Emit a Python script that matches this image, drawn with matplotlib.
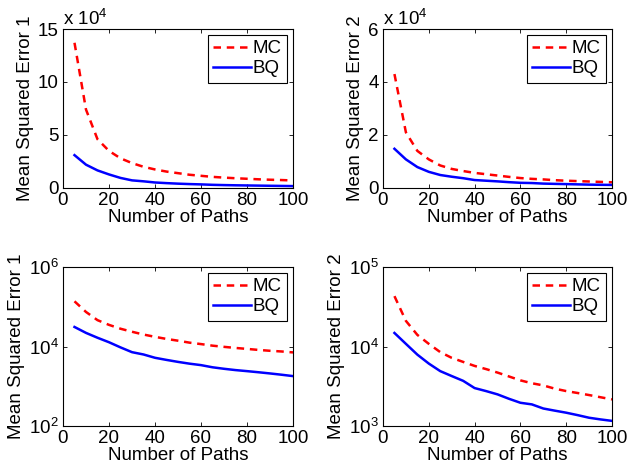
import numpy as np
import matplotlib
matplotlib.use("Agg")
import matplotlib.pyplot as plt

plt.rcParams['font.family'] = ['Liberation Sans', 'DejaVu Sans']
plt.rcParams['mathtext.fontset'] = 'custom'
plt.rcParams['mathtext.rm'] = 'Liberation Sans'
plt.rcParams['mathtext.it'] = 'Liberation Sans'

paths = [5, 10, 15, 20, 25, 30, 35, 40, 45, 50, 55, 60, 65, 70, 75, 80, 85, 90, 95, 100]

mc_err1 = [137000, 74000, 46000, 35000, 28000, 23500, 20000, 17500, 15500, 14000,
           12500, 11500, 10500, 9800, 9200, 8700, 8200, 7800, 7500, 7100]
bq_err1 = [31000, 22000, 16600, 12800, 9500, 7200, 6300, 5200, 4600, 4100,
           3700, 3400, 3000, 2750, 2550, 2400, 2250, 2100, 1950, 1800]

mc_err2 = [43000, 21000, 14000, 10800, 8500, 7200, 6400, 5700, 5200, 4700,
           4200, 3750, 3450, 3240, 2950, 2750, 2600, 2450, 2300, 2160]
bq_err2 = [14800, 10800, 7900, 6100, 4900, 4250, 3700, 3000, 2750, 2500,
           2200, 1960, 1870, 1660, 1560, 1470, 1370, 1270, 1210, 1160]

FS = 13.5

fig = plt.figure(figsize=(6.28, 4.76), dpi=100)
boxes = [
    [63 / 628, 1 - 188 / 476, 230 / 628, 159 / 476],
    [383 / 628, 1 - 188 / 476, 229 / 628, 159 / 476],
    [63 / 628, 1 - 426 / 476, 230 / 628, 159 / 476],
    [383 / 628, 1 - 426 / 476, 229 / 628, 159 / 476],
]
series = [(mc_err1, bq_err1, "Mean Squared Error 1"),
          (mc_err2, bq_err2, "Mean Squared Error 2"),
          (mc_err1, bq_err1, "Mean Squared Error 1"),
          (mc_err2, bq_err2, "Mean Squared Error 2")]

for i, (box, (mc, bq, ylab)) in enumerate(zip(boxes, series)):
    ax = fig.add_axes(box)
    ax.plot(paths, mc, color="red", linestyle=(0, (3, 2.3)), lw=1.8, label="MC")
    ax.plot(paths, bq, color="blue", linestyle="-", lw=1.8, label="BQ")
    ax.set_xlim(0, 100)
    ax.set_xticks([0, 20, 40, 60, 80, 100])
    if i == 0:
        ax.set_ylim(0, 150000)
        ax.set_yticks([0, 50000, 100000, 150000])
        ax.set_yticklabels(["0", "5", "10", "15"])
    elif i == 1:
        ax.set_ylim(0, 60000)
        ax.set_yticks([0, 20000, 40000, 60000])
        ax.set_yticklabels(["0", "2", "4", "6"])
    elif i == 2:
        ax.set_yscale("log")
        ax.set_ylim(1e2, 1e6)
        ax.set_yticks([1e2, 1e4, 1e6])
        ax.set_yticklabels(["10$^{2}$", "10$^{4}$", "10$^{6}$"])
    else:
        ax.set_yscale("log")
        ax.set_ylim(1e3, 1e5)
        ax.set_yticks([1e3, 1e4, 1e5])
        ax.set_yticklabels(["10$^{3}$", "10$^{4}$", "10$^{5}$"])
    ax.minorticks_off()
    if i < 2:
        ax.text(0.0, 1.0, "x 10$^{4}$", transform=ax.transAxes, fontsize=FS,
                ha="left", va="bottom")
    ax.tick_params(direction="in", top=True, right=True, length=3, width=0.6,
                   labelsize=FS, pad=3)
    for s in ax.spines.values():
        s.set_linewidth(0.8)
    ax.set_xlabel("Number of Paths", fontsize=FS, labelpad=0)
    ax.set_ylabel(ylab, fontsize=FS, labelpad=3)
    leg = ax.legend(loc="upper right", fontsize=FS, fancybox=False, framealpha=1,
                    edgecolor="black", handlelength=2.0, handletextpad=0.1,
                    borderpad=0.3, labelspacing=0.15, borderaxespad=0.3)
    leg.get_frame().set_linewidth(0.8)

fig.savefig("out.png", dpi=100)
